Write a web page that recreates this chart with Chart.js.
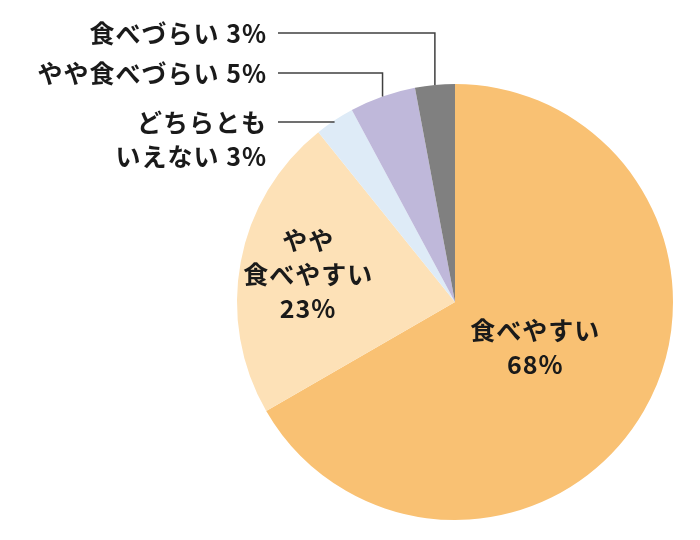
<!DOCTYPE html>
<html>
<head>
<meta charset="utf-8">
<script src="https://cdn.jsdelivr.net/npm/chart.js@4"></script>
<style>
  html, body { margin: 0; padding: 0; background: #fff; }
  #wrap { width: 700px; height: 540px; position: relative; }
</style>
</head>
<body>
<div id="wrap"><canvas id="pieChart"></canvas></div>
<script>
// chart data
const categories = ['食べやすい', 'やや食べやすい', 'どちらともいえない', 'やや食べづらい', '食べづらい'];
const percents = [68, 23, 3, 5, 3];
const colors = ['#F9C173', '#FDE1B7', '#DEEBF7', '#BFB8DA', '#808080'];

// text shown for each slice (lines)
const labelLines = [
  ['食べやすい', '68%'],
  ['やや', '食べやすい', '23%'],
  ['どちらとも', 'いえない 3%'],
  ['やや食べづらい 5%'],
  ['食べづらい 3%']
];

const FONT = '"Noto Sans CJK JP", "Noto Sans", sans-serif';

// draws the inside labels and the leader-line labels
const sliceLabels = {
  id: 'sliceLabels',
  afterDatasetsDraw(chart) {
    const ctx = chart.ctx;
    const arcs = chart.getDatasetMeta(0).data;
    ctx.save();
    ctx.font = 'bold 25px ' + FONT;
    ctx.letterSpacing = '1px';
    ctx.fillStyle = '#1a1a1a';
    ctx.textBaseline = 'middle';

    // inside labels for the two large slices
    const insideFrac = [0.42, 0.69];
    const lineH = 34;
    [0, 1].forEach(i => {
      const a = arcs[i];
      const mid = (a.startAngle + a.endAngle) / 2;
      const r = a.outerRadius * insideFrac[i];
      const cx = a.x + Math.cos(mid) * r;
      const cy = a.y + Math.sin(mid) * r;
      const lines = labelLines[i];
      ctx.textAlign = 'center';
      lines.forEach((t, k) => {
        ctx.fillText(t, cx + 1, cy + (k - (lines.length - 1) / 2) * lineH);
      });
    });

    // outside labels with leader lines for the small slices
    const labelRight = 267;
    const lineStart = 278;
    const rowY = { 2: 122, 3: 73, 4: 33 };
    ctx.strokeStyle = '#404040';
    ctx.lineWidth = 1.5;
    [2, 3, 4].forEach(i => {
      const a = arcs[i];
      const mid = (a.startAngle + a.endAngle) / 2;
      const ex = a.x + Math.cos(mid) * a.outerRadius;
      const ey = a.y + Math.sin(mid) * a.outerRadius;
      const y = rowY[i];
      ctx.beginPath();
      ctx.moveTo(lineStart, y);
      ctx.lineTo(ex, y);
      if (i !== 2) ctx.lineTo(ex, ey);
      ctx.stroke();
      ctx.textAlign = 'right';
      labelLines[i].forEach((t, k) => ctx.fillText(t, labelRight, y + k * lineH));
    });
    ctx.restore();
  }
};

new Chart(document.getElementById('pieChart'), {
  type: 'pie',
  data: {
    labels: categories,
    datasets: [{
      data: percents,
      backgroundColor: colors,
      borderWidth: 0
    }]
  },
  options: {
    responsive: true,
    maintainAspectRatio: false,
    animation: false,
    layout: { padding: { left: 237, right: 27, top: 83, bottom: 19 } },
    plugins: {
      legend: { display: false },
      tooltip: { enabled: false }
    }
  },
  plugins: [sliceLabels]
});
</script>
</body>
</html>
